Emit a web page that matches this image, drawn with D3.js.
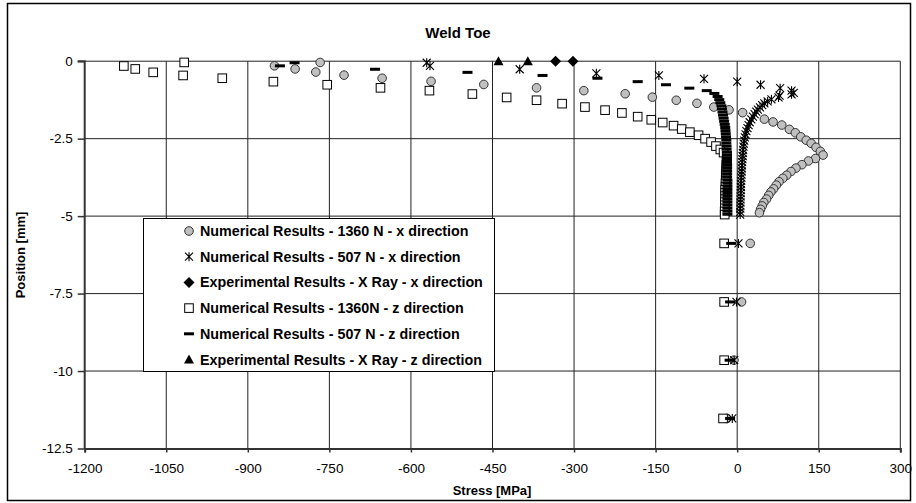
<!DOCTYPE html>
<html>
<head>
<meta charset="utf-8">
<script src="https://cdn.jsdelivr.net/npm/d3@7"></script>
<style>
  body { margin: 0; background: #fff; }
  svg { display: block; font-family: "Liberation Sans", Arial, sans-serif; }
</style>
</head>
<body>
<svg id="chart" width="916" height="503"></svg>
<script>
// [stress MPa, position mm]
const num1360x = [[-767,-0.04],[-851,-0.15],[-813,-0.25],[-775,-0.35],[-723,-0.45],[-653,-0.55],[-563,-0.65],[-466,-0.75],[-369,-0.86],[-282,-0.95],[-206,-1.05],[-156,-1.16],[-112,-1.26],[-74,-1.36],[-43,-1.48],[-15,-1.57],[10,-1.66],
  [50,-1.87],[66,-1.96],[82,-2.06],[96,-2.2],[107,-2.31],[117,-2.44],[127,-2.55],[136,-2.65],[145,-2.78],[153,-2.91],[158,-3.03],[144,-3.14],[131,-3.22],[119,-3.34],[108,-3.45],[99,-3.56],[91,-3.68],[84,-3.78],[77,-3.89],[72,-4.0],[67,-4.12],[62,-4.22],[58,-4.33],[54,-4.45],[49,-4.56],[46,-4.67],[43,-4.78],[41,-4.89],
  [24,-5.88],[8,-7.77],[-6,-9.65],[-19,-11.53]];

const num507x = [[-571,-0.05],[-565,-0.15],[-400,-0.26],[-259,-0.39],[-144,-0.46],[-61,-0.57],[0,-0.66],[43,-0.76],[79,-0.87],[100,-0.95],[104,-1.02],[100,-1.07],[78,-1.11],[76,-1.17],[63,-1.23],[56,-1.30],[50,-1.36],[46,-1.42],[42,-1.49],[38,-1.56],[35,-1.63],[32,-1.71],[29,-1.79],[26,-1.88],[23,-1.97],[21,-2.06],[19,-2.16],[17,-2.26],[15.5,-2.36],[14,-2.46],[13,-2.56],[12,-2.66],[11.5,-2.76],[11,-2.86],[10.5,-2.96],[10,-3.06],[9.6,-3.16],[9.2,-3.26],[8.8,-3.36],[8.5,-3.46],[8.2,-3.56],[7.9,-3.66],[7.6,-3.76],[7.3,-3.86],[7.1,-3.96],[6.9,-4.06],[6.7,-4.16],[6.5,-4.26],[6.3,-4.36],[6.1,-4.46],[6,-4.56],[5.8,-4.66],[5.7,-4.76],[5.6,-4.86],[5.5,-4.95],
  [2.4,-5.88],[-1.3,-7.77],[-5.5,-9.65],[-9,-11.53]];

const expX = [[-334,0],[-302,0]];

const num1360z = [[-1017,-0.04],[-1128,-0.155],[-1107,-0.25],[-1074,-0.36],[-1019,-0.46],[-947,-0.55],[-853,-0.66],[-754,-0.76],[-656,-0.86],[-566,-0.95],[-487,-1.06],[-424,-1.17],[-369,-1.26],[-322,-1.37],[-280,-1.48],[-243,-1.58],[-212,-1.67],[-183,-1.79],[-158,-1.89],[-137,-1.98],[-117,-2.08],[-102,-2.19],[-87,-2.29],[-71,-2.39],[-59,-2.50],[-48,-2.61],[-39,-2.74],[-31,-2.85],[-25,-2.95],
  [-19,-3.05],[-19,-3.15],[-19.5,-3.25],[-20,-3.35],[-20,-3.45],[-20.5,-3.55],[-21,-3.65],[-21,-3.75],[-21,-3.85],[-21.5,-3.95],[-21.5,-4.05],[-22,-4.15],[-22,-4.25],[-22,-4.35],[-22,-4.45],[-22.5,-4.55],[-22.5,-4.65],[-22.5,-4.75],[-23,-4.85],[-23,-4.95],
  [-24,-5.88],[-24,-7.77],[-24,-9.65],[-26,-11.53]];

const num507z = [[-814,-0.05],[-841,-0.15],[-666,-0.26],[-496,-0.36],[-358,-0.46],[-257,-0.55],[-183,-0.66],[-131,-0.76],[-88,-0.87],[-56,-0.95],
  [-42,-1.04],[-36,-1.14],[-33,-1.24],[-31,-1.34],[-29,-1.44],[-28,-1.54],[-27,-1.64],[-26,-1.74],[-25,-1.84],[-24,-1.94],[-23,-2.04],[-22,-2.14],[-21.5,-2.24],[-21,-2.34],[-20.5,-2.44],[-20,-2.54],[-20,-2.64],[-19.5,-2.74],[-19.5,-2.84],[-19,-2.94],[-19,-3.04],[-19,-3.14],[-19,-3.24],[-18.5,-3.34],[-18.5,-3.44],[-18.5,-3.54],[-18.5,-3.64],[-18.5,-3.74],[-18,-3.84],[-18,-3.94],[-18,-4.04],[-18,-4.14],[-18,-4.24],[-18,-4.34],[-18,-4.44],[-18,-4.54],[-18,-4.64],[-18,-4.74],[-18,-4.84],[-18,-4.94],
  [-11,-5.88],[-13,-7.77],[-14,-9.65],[-13,-11.53]];

const expZ = [[-439,0],[-385,0]];

const xTicks = [-1200,-1050,-900,-750,-600,-450,-300,-150,0,150,300];
const yTicks = [0,-2.5,-5,-7.5,-10,-12.5];

const legendLabels = [
  "Numerical Results - 1360 N - x direction",
  "Numerical Results - 507 N - x direction",
  "Experimental Results - X Ray - x direction",
  "Numerical Results - 1360N - z direction",
  "Numerical Results - 507 N - z direction",
  "Experimental Results - X Ray - z direction"
];

const svg = d3.select("#chart");
const x = d3.scaleLinear().domain([-1200, 300]).range([84.7, 900.3]);
const y = d3.scaleLinear().domain([-12.5, 0]).range([448.5, 61.2]);

// outer frame
svg.append("rect").attr("x", 7.5).attr("y", 3.5).attr("width", 903).attr("height", 497)
  .attr("fill", "#fff").attr("stroke", "#000").attr("stroke-width", 1.5);

// gridlines
const grid = svg.append("g").attr("stroke", "#222").attr("stroke-width", 1);
grid.selectAll("line.v").data(xTicks.slice(1)).enter().append("line")
  .attr("x1", d => x(d)).attr("x2", d => x(d)).attr("y1", y(0)).attr("y2", y(-12.5));
grid.selectAll("line.h").data(yTicks.slice(0, -1)).enter().append("line")
  .attr("x1", x(-1200)).attr("x2", x(300)).attr("y1", d => y(d)).attr("y2", d => y(d));

// axes
const yAxis = svg.append("g").attr("transform", `translate(${x(-1200)},0)`)
  .call(d3.axisLeft(y).tickValues(yTicks).tickFormat(d => String(d)).tickSize(7).tickPadding(5));
const xAxis = svg.append("g").attr("transform", `translate(0,${y(-12.5)})`)
  .call(d3.axisBottom(x).tickValues(xTicks).tickFormat(d => String(d)).tickSize(4).tickPadding(11));
[yAxis, xAxis].forEach(a => {
  a.select(".domain").attr("stroke", "#333").attr("stroke-width", 2);
  a.selectAll(".tick line").attr("stroke", "#333").attr("stroke-width", 1.5);
  a.selectAll("text").attr("font-size", 13.5).attr("fill", "#000")
    .attr("font-family", "'Liberation Sans', Arial, sans-serif");
});
yAxis.select(".domain").attr("d", `M-7,${y(0)}H0V${y(-12.5)}`);

// marker painters
function circles(g, data) {
  g.selectAll("circle").data(data).enter().append("circle")
    .attr("cx", d => x(d[0])).attr("cy", d => y(d[1])).attr("r", 4.3)
    .attr("fill", "#c0c0c0").attr("stroke", "#333").attr("stroke-width", 1);
}
const starPath = "M0,-4.5V4.5M-4,-4L4,4M-4,4L4,-4";
function stars(g, data) {
  g.selectAll("path").data(data).enter().append("path")
    .attr("transform", d => `translate(${x(d[0])},${y(d[1])})`)
    .attr("d", starPath).attr("fill", "none").attr("stroke", "#000").attr("stroke-width", 1.1);
}
function diamonds(g, data) {
  g.selectAll("path").data(data).enter().append("path")
    .attr("transform", d => `translate(${x(d[0])},${y(d[1])})`)
    .attr("d", "M0,-5.5L5.5,0L0,5.5L-5.5,0Z").attr("fill", "#000");
}
function squares(g, data) {
  g.selectAll("rect").data(data).enter().append("rect")
    .attr("x", d => x(d[0]) - 4.3).attr("y", d => y(d[1]) - 4.3)
    .attr("width", 8.6).attr("height", 8.6)
    .attr("fill", "#fff").attr("stroke", "#000").attr("stroke-width", 1);
}
function dashes(g, data) {
  g.selectAll("rect").data(data).enter().append("rect")
    .attr("x", d => x(d[0]) - 5).attr("y", d => y(d[1]) - 1.5)
    .attr("width", 10).attr("height", 3).attr("fill", "#000");
}
function triangles(g, data) {
  g.selectAll("path").data(data).enter().append("path")
    .attr("transform", d => `translate(${x(d[0])},${y(d[1])})`)
    .attr("d", "M0,-5L5,4L-5,4Z").attr("fill", "#000");
}

const painters = [circles, stars, diamonds, squares, dashes, triangles];
const seriesData = [num1360x, num507x, expX, num1360z, num507z, expZ];
seriesData.forEach((s, i) => painters[i](svg.append("g"), s));

// legend
const lg = svg.append("g");
lg.append("rect").attr("x", 143.5).attr("y", 218.5).attr("width", 351).attr("height", 153)
  .attr("fill", "#fff").attr("stroke", "#000").attr("stroke-width", 1);
legendLabels.forEach((lab, i) => {
  const cy = 231 + i * 25.7;
  const g = lg.append("g");
  painters[i](g, [[x.invert(189), y.invert(cy)]]);
  lg.append("text").attr("x", 200).attr("y", cy + 5)
    .attr("font-size", 14.3).attr("font-weight", "bold").text(lab);
});

// titles
svg.append("text").attr("x", 458).attr("y", 38).attr("text-anchor", "middle")
  .attr("font-size", 15).attr("font-weight", "bold").text("Weld Toe");
svg.append("text").attr("x", 492).attr("y", 495).attr("text-anchor", "middle")
  .attr("font-size", 13).attr("font-weight", "bold").text("Stress [MPa]");
svg.append("text").attr("transform", "translate(25,255) rotate(-90)").attr("text-anchor", "middle")
  .attr("font-size", 13).attr("font-weight", "bold").text("Position [mm]");
</script>
</body>
</html>
